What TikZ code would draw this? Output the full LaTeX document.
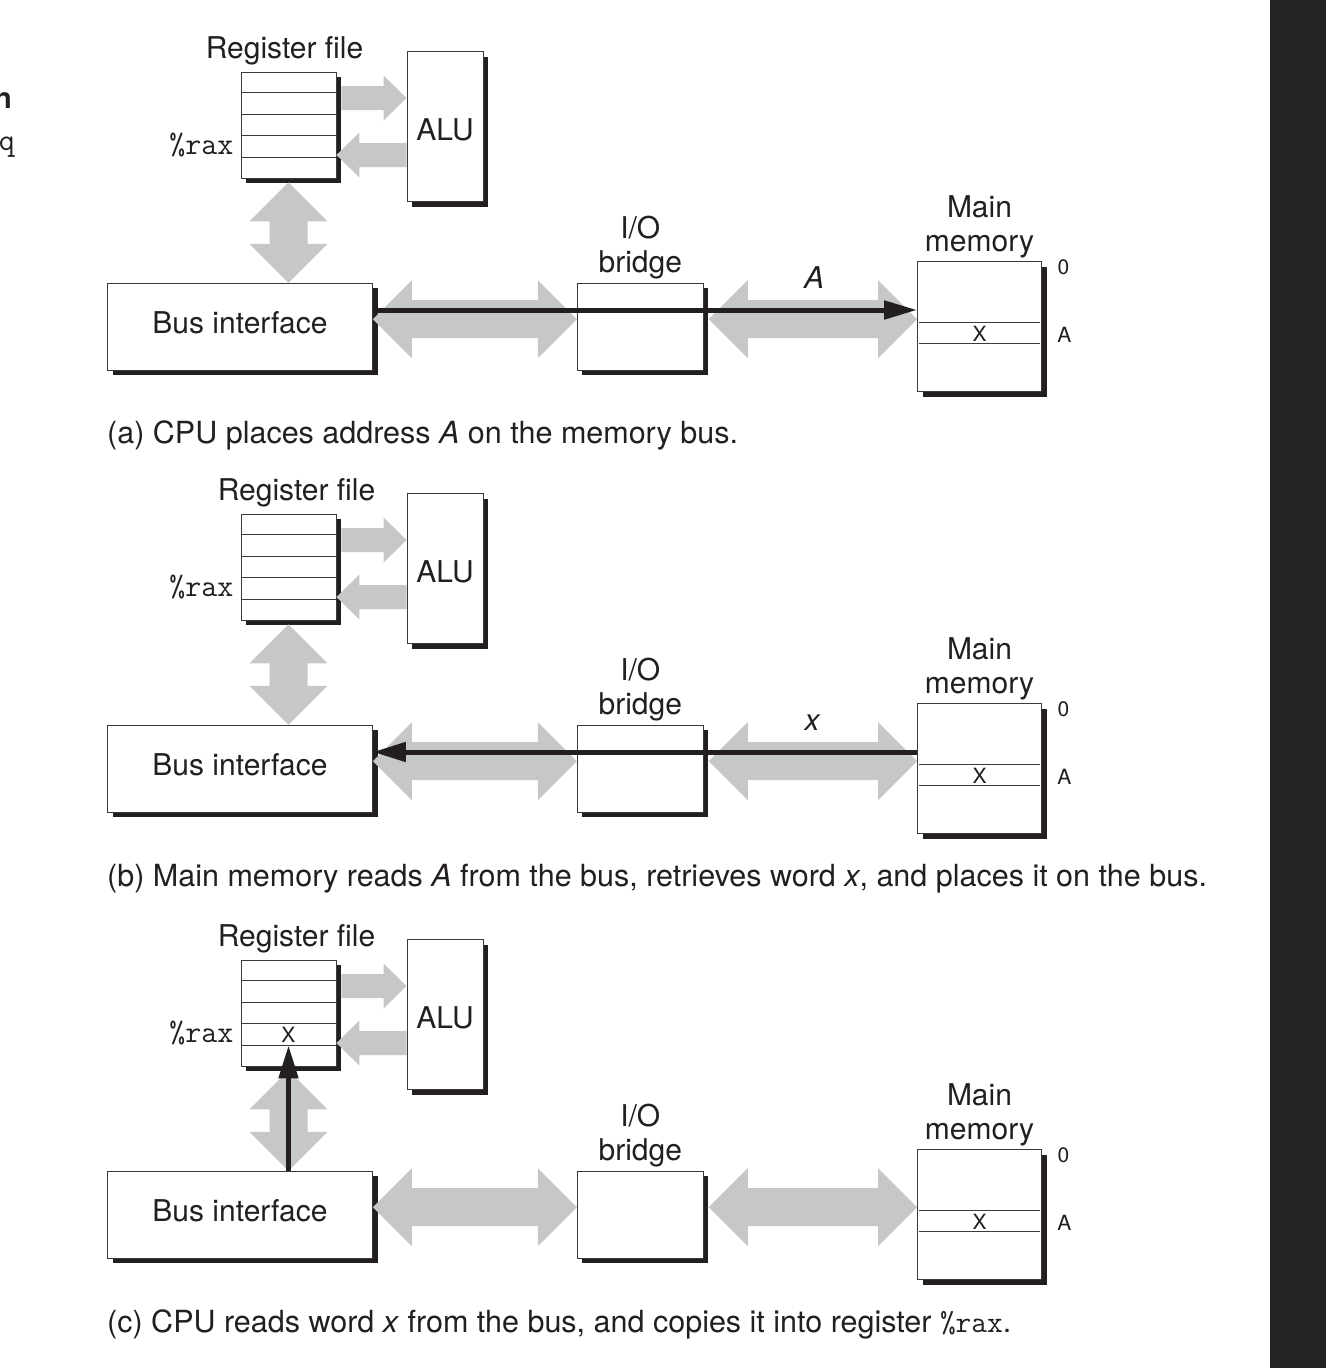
\documentclass[tikz,border=0pt]{standalone}
\usepackage{fontspec}
\setmainfont{TeX Gyre Heros}
\usetikzlibrary{positioning,calc,shadows,arrows.meta}

\definecolor{ink}{HTML}{231F20}
\definecolor{busgray}{HTML}{C6C7C9}
\definecolor{edgegray}{HTML}{3A3A3A}
\definecolor{sidebar}{HTML}{222324}

% fat grey bus arrow with a head at both ends
\newcommand{\fatdouble}[2]{%
  \coordinate (h1) at ($(#1)!39pt!(#2)$);
  \coordinate (h2) at ($(#2)!39pt!(#1)$);
  \fill[busgray] (#1) -- ($(h1)!39pt!90:(#2)$) -- ($(h1)!19pt!90:(#2)$)
    -- ($(h2)!19pt!-90:(#1)$) -- ($(h2)!39pt!-90:(#1)$) -- (#2)
    -- ($(h2)!39pt!90:(#1)$) -- ($(h2)!19pt!90:(#1)$)
    -- ($(h1)!19pt!-90:(#2)$) -- ($(h1)!39pt!-90:(#2)$) -- cycle;}
% fat grey arrow, tail #1, tip #2
\newcommand{\fatsingle}[2]{%
  \coordinate (h1) at ($(#2)!23pt!(#1)$);
  \fill[busgray] ($(#1)!12pt!90:(#2)$) -- ($(h1)!12pt!-90:(#1)$)
    -- ($(h1)!22.5pt!-90:(#1)$) -- (#2) -- ($(h1)!22.5pt!90:(#1)$)
    -- ($(h1)!12pt!90:(#1)$) -- ($(#1)!12pt!-90:(#2)$) -- cycle;}

\begin{document}
\begin{tikzpicture}[x=1pt,y=-1pt,
    lbl/.style={font=\fontsize{30}{34}\selectfont, text=ink, inner sep=0pt},
    captext/.style={font=\fontsize{30.5}{34}\selectfont, text=ink, inner sep=0pt, anchor=base west},
    small/.style={font=\fontsize{21}{21}\selectfont, text=ink, inner sep=0pt},
    ttl/.style={font=\fontsize{31}{31}\selectfont\ttfamily, text=ink, inner sep=0pt},
    box/.style={lbl, draw=edgegray, line width=0.9pt, fill=white,
      drop shadow={shadow xshift=5pt, shadow yshift=-5pt, fill=ink, opacity=1}},
    rowline/.style={edgegray, line width=0.9pt},
    wire/.style={draw=ink, line width=5pt}]
  % page
  \useasboundingbox (0,0) rectangle (1326,1368);
  \fill[white] (0,0) rectangle (1326,1368);
  \fill[sidebar] (1270,0) rectangle (1326,1368);
  \node[lbl, anchor=base east, font=\fontsize{29}{29}\selectfont\bfseries] (cutn) at (12,108) {n};
  \node[ttl, anchor=base east] (cutq) at (15,150) {q};

  % the three panels share the same hardware
  \foreach \p/\dy/\rx in {a/0/-4,b/442/8,c/888/8}{
  \begin{scope}[shift={(0,\dy)}]
    % CPU
    \node[box, minimum width=95pt, minimum height=106pt] (reg\p) at (288.5,125) {};
    \foreach \k in {1,...,4}
      \draw[rowline] ($(reg\p.north west)!\k/5!(reg\p.south west)$) -- ($(reg\p.north east)!\k/5!(reg\p.south east)$);
    \node[lbl, above=6pt of reg\p, xshift=\rx pt] (regname\p) {Register file};
    \node[ttl, anchor=east, xshift=-7pt, yshift=1.5pt] (rax\p) at ($(reg\p.north west)!0.7!(reg\p.south west)$) {\%rax};
    \node[box, minimum width=76pt, minimum height=150pt, text height=27.6pt] (alu\p) at (445,126.7) {ALU};
    \node[box, minimum width=265pt, minimum height=87pt, text depth=8pt] (bus\p) at (240,326.7) {Bus interface};

    % bridge and memory
    \node[box, minimum width=126pt, minimum height=87pt] (bridge\p) at (640.3,326.7) {};
    \node[lbl, align=center, above=4pt of bridge\p] (bridgename\p) {I/O\\bridge};
    \node[box, minimum width=124pt, minimum height=130pt] (mem\p) at (979.5,326.7) {};
    \node[lbl, align=center, above=3pt of mem\p] (memname\p) {Main\\memory};
    \draw[rowline] ([xshift=2pt,yshift=-61.6pt]mem\p.north west) -- ([xshift=-2pt,yshift=-61.6pt]mem\p.north east);
    \draw[rowline] ([xshift=2pt,yshift=-82.6pt]mem\p.north west) -- ([xshift=-2pt,yshift=-82.6pt]mem\p.north east);
    \node[small] (word\p) at ([yshift=-72.5pt]mem\p.north) {X};
    \node[small] (zero\p) at ([xshift=21.5pt,yshift=-5.5pt]mem\p.north east) {0};
    \node[small] (addr\p) at ([xshift=22.5pt,yshift=-73.6pt]mem\p.north east) {A};

    % grey data paths
    \coordinate (rt\p) at ([xshift=5pt,yshift=27pt]reg\p.east);
    \coordinate (at\p) at (alu\p.west |- rt\p);
    \fatsingle{rt\p}{at\p}
    \coordinate (ab\p) at ([yshift=-28.3pt]alu\p.west);
    \coordinate (rb\p) at (reg\p.east |- ab\p);
    \fatsingle{ab\p}{rb\p}
    \coordinate (rs\p) at ([yshift=-4pt]reg\p.south);
    \coordinate (bn\p) at (bus\p.north -| rs\p);
    \fatdouble{rs\p}{bn\p}
    \coordinate (be\p) at ([yshift=7.5pt]bus\p.east);
    \coordinate (bw\p) at ([yshift=7.5pt]bridge\p.west);
    \fatdouble{be\p}{bw\p}
    \coordinate (ge\p) at ([xshift=5pt,yshift=7.5pt]bridge\p.east);
    \coordinate (mw\p) at ([yshift=7.5pt]mem\p.west);
    \fatdouble{ge\p}{mw\p}
  \end{scope}
  }

  % (a) address goes out
  \draw[wire, -{Triangle[length=33pt,width=18pt]}] ([yshift=16.7pt]busa.east) -- ([yshift=16.7pt]mema.west);
  \node[lbl, anchor=base, font=\fontsize{30}{30}\selectfont\itshape] (addrlbl) at (814,288) {A};
  \node[captext] (capa) at (107,443) {(a) CPU places address \textit{A} on the memory bus.};

  % (b) word comes back
  \draw[wire, -{Triangle[length=33pt,width=19pt]}] ([yshift=16.7pt]memb.west) -- ([yshift=16.7pt]busb.east);
  \node[lbl, anchor=base, font=\fontsize{30}{30}\selectfont\itshape] (wordlbl) at (812,730) {x};
  \node[captext] (capb) at (107,886) {(b) Main memory reads \textit{A} from the bus, retrieves word \textit{x}, and places it on the bus.};

  % (c) word into %rax
  \node[small] (regword) at ($(regc.north)!0.7!(regc.south)$) {X};
  \draw[wire, -{Triangle[length=33pt,width=19pt]}] (busc.north -| regc.south) -- ([yshift=21pt]regc.south);
  \node[captext] (capc) at (107,1332) {(c) CPU reads word \textit{x} from the bus, and copies it into register \texttt{\%rax}.};
\end{tikzpicture}
\end{document}
